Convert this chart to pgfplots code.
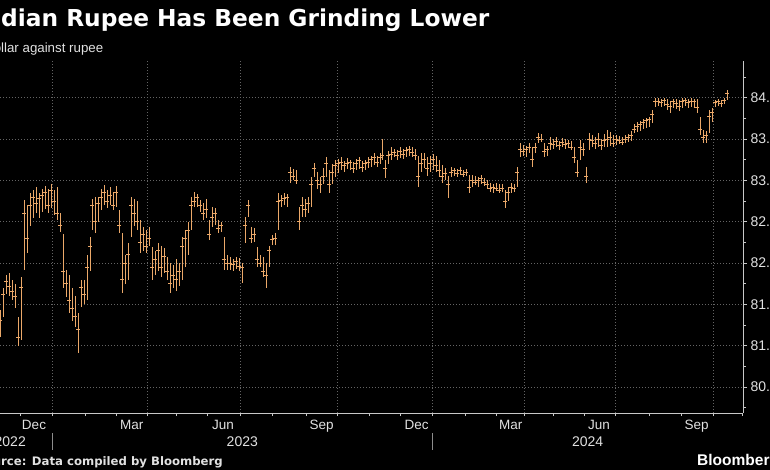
\documentclass[border=0pt]{standalone}
\usepackage{fontspec}
\setmainfont{Liberation Sans}
\newfontfamily\djb{DejaVu Sans}
\usepackage{pgfplots}
\usepackage{pgfplotstable}
\pgfplotsset{compat=1.18}
\definecolor{barc}{RGB}{235,168,105}
\definecolor{axc}{RGB}{200,200,200}
\definecolor{gridc}{RGB}{100,100,100}
\definecolor{labc}{RGB}{225,225,225}
\newlength\preA
\newlength\preB
\newlength\preC
\pgfplotstableread{
x lo hi c
0 81.10 81.43 81.30
3 81.35 81.70 81.62
6 81.62 81.85 81.78
9 81.60 81.88 81.72
12 81.55 81.80 81.66
15 81.45 81.75 81.60
18 81.00 81.35 81.10
21 81.07 81.83 81.70
24 81.92 82.76 82.60
27 82.12 82.70 82.30
30 82.45 82.85 82.70
33 82.55 82.88 82.80
36 82.60 82.92 82.72
39 82.55 82.85 82.78
42 82.62 82.90 82.82
45 82.65 82.93 82.85
48 82.60 82.90 82.70
51 82.66 82.95 82.88
54 82.58 82.88 82.75
57 82.52 82.92 82.60
60 82.38 82.60 82.45
63 81.70 82.35 81.90
66 81.59 81.92 81.75
69 81.40 81.85 81.55
72 81.30 81.70 81.45
75 81.23 81.60 81.35
78 80.91 81.40 81.20
81 81.47 81.79 81.70
84 81.50 81.80 81.62
87 81.55 82.10 81.95
90 81.90 82.31 82.20
92 82.40 82.78 82.70
95 82.36 82.80 82.50
98 82.50 82.80 82.72
101 82.64 82.90 82.80
104 82.70 82.94 82.85
107 82.66 82.88 82.75
110 82.70 82.92 82.82
113 82.64 82.86 82.70
116 82.68 82.93 82.85
119 82.36 82.64 82.45
122 81.64 82.36 81.80
125 81.75 82.10 82.00
128 81.79 82.24 82.10
131 82.31 82.80 82.70
134 82.45 82.78 82.60
137 82.40 82.75 82.50
140 82.12 82.52 82.25
143 82.15 82.44 82.35
146 82.12 82.40 82.20
149 82.20 82.44 82.30
152 81.79 82.19 81.95
155 81.85 82.15 82.05
158 81.90 82.24 82.15
161 81.83 82.20 81.95
164 81.88 82.18 82.08
167 81.80 82.07 81.90
170 81.64 82.00 81.75
173 81.70 81.98 81.85
176 81.66 82.05 81.80
179 81.72 82.00 81.90
182 81.79 82.31 82.20
185 81.95 82.40 82.30
188 82.10 82.50 82.40
191 82.40 82.80 82.70
194 82.68 82.86 82.75
197 82.68 82.84 82.80
200 82.62 82.76 82.70
203 82.52 82.72 82.60
206 82.55 82.78 82.65
209 82.28 82.52 82.35
212 82.44 82.68 82.55
215 82.46 82.66 82.60
218 82.36 82.52 82.42
221 82.38 82.50 82.45
224 81.92 82.31 82.05
227 81.92 82.10 82.00
230 81.92 82.07 82.00
233 81.90 82.05 81.98
236 81.93 82.07 82.02
239 81.90 82.06 81.96
242 81.76 82.00 81.95
245 82.24 82.56 82.45
248 82.56 82.76 82.70
251 82.24 82.44 82.30
254 82.26 82.42 82.35
257 81.95 82.19 82.05
260 81.95 82.10 82.00
263 81.83 82.07 81.90
266 81.70 82.00 81.85
269 81.95 82.20 82.15
272 82.22 82.34 82.28
275 82.22 82.36 82.30
278 82.40 82.85 82.75
281 82.68 82.82 82.76
284 82.70 82.85 82.78
287 82.68 82.84 82.80
290 82.97 83.16 83.10
293 83.00 83.14 83.05
296 82.95 83.12 83.00
299 82.40 82.68 82.50
302 82.56 82.80 82.70
305 82.56 82.78 82.65
308 82.60 82.80 82.72
311 82.68 83.04 82.95
314 83.04 83.21 83.15
317 82.90 83.10 83.00
320 82.85 83.04 82.95
323 82.95 83.15 83.05
326 83.04 83.28 83.20
329 82.85 83.12 82.95
332 82.95 83.20 83.10
335 83.04 83.25 83.18
338 83.09 83.26 83.20
341 83.12 83.28 83.22
344 83.10 83.24 83.18
347 83.14 83.27 83.20
350 83.12 83.25 83.22
353 83.09 83.22 83.15
356 83.12 83.26 83.20
359 83.14 83.28 83.24
362 83.10 83.24 83.16
365 83.12 83.25 83.20
368 83.15 83.28 83.22
371 83.16 83.30 83.25
374 83.18 83.33 83.28
377 83.16 83.30 83.22
380 83.20 83.33 83.28
382 83.25 83.50 83.30
385 83.03 83.25 83.15
388 83.20 83.36 83.30
391 83.25 83.40 83.32
394 83.28 83.38 83.34
397 83.25 83.37 83.30
400 83.27 83.40 83.35
403 83.26 83.38 83.32
406 83.28 83.40 83.36
409 83.30 83.42 83.38
412 83.28 83.40 83.34
415 83.25 83.38 83.30
418 82.92 83.30 83.05
421 83.10 83.33 83.20
424 83.15 83.33 83.25
427 83.05 83.28 83.15
430 83.10 83.30 83.20
433 83.12 83.32 83.25
436 83.10 83.30 83.18
439 83.04 83.25 83.12
442 82.97 83.19 83.05
445 83.00 83.15 83.08
448 82.79 83.05 82.95
451 83.04 83.16 83.10
454 83.05 83.15 83.12
457 83.04 83.14 83.08
460 83.06 83.16 83.12
463 83.04 83.13 83.07
466 83.05 83.14 83.10
469 82.85 83.06 82.92
472 82.92 83.06 83.00
475 82.94 83.05 82.98
478 82.92 83.04 83.00
481 82.95 83.06 83.02
484 82.93 83.03 82.97
487 82.90 83.00 82.95
490 82.86 82.97 82.90
493 82.85 82.96 82.92
496 82.87 82.97 82.90
499 82.85 82.95 82.88
502 82.86 82.96 82.90
505 82.67 82.88 82.75
508 82.75 82.92 82.85
511 82.85 82.97 82.92
514 82.86 82.95 82.90
517 82.92 83.16 83.10
520 83.28 83.45 83.38
523 83.30 83.43 83.35
526 83.28 83.42 83.38
529 83.33 83.45 83.40
532 83.16 83.40 83.25
535 83.33 83.45 83.40
538 83.45 83.57 83.52
541 83.46 83.56 83.50
544 83.28 83.45 83.35
547 83.30 83.42 83.38
550 83.37 83.52 83.45
553 83.38 83.50 83.44
556 83.40 83.52 83.47
559 83.37 83.48 83.42
562 83.40 83.51 83.46
565 83.38 83.50 83.44
568 83.39 83.49 83.45
571 83.37 83.48 83.40
574 83.21 83.40 83.28
577 83.04 83.25 83.10
580 83.25 83.49 83.40
583 83.30 83.45 83.38
586 82.97 83.16 83.05
589 83.37 83.57 83.50
592 83.40 83.55 83.48
595 83.38 83.52 83.45
598 83.40 83.57 83.50
601 83.37 83.50 83.42
604 83.40 83.56 83.48
607 83.40 83.61 83.50
610 83.42 83.58 83.52
613 83.40 83.55 83.45
616 83.43 83.55 83.50
619 83.44 83.54 83.48
622 83.43 83.52 83.46
625 83.45 83.55 83.50
628 83.46 83.56 83.52
631 83.48 83.60 83.55
634 83.57 83.68 83.62
637 83.58 83.70 83.65
640 83.60 83.72 83.68
643 83.62 83.74 83.70
646 83.63 83.76 83.72
649 83.65 83.77 83.74
652 83.69 83.85 83.80
655 83.89 84.00 83.95
658 83.90 84.00 83.96
661 83.89 83.99 83.94
664 83.90 84.00 83.97
667 83.85 83.98 83.92
670 83.82 83.96 83.90
673 83.88 83.99 83.95
676 83.86 83.98 83.93
679 83.84 83.97 83.90
682 83.88 84.00 83.96
685 83.90 84.00 83.97
688 83.87 83.99 83.94
691 83.89 84.00 83.96
694 83.88 83.99 83.95
697 83.82 83.98 83.88
700 83.55 83.77 83.62
703 83.45 83.61 83.52
706 83.45 83.60 83.55
709 83.57 83.85 83.78
712 83.70 83.88 83.82
715 83.89 83.97 83.94
718 83.90 83.98 83.95
721 83.89 83.97 83.93
724 83.92 84.00 83.97
727 83.97 84.09 84.05
}\bars
\begin{document}
\settowidth\preA{\djb\bfseries\fontsize{23.3bp}{28bp}\selectfont In}%
\settowidth\preB{\fontsize{13.3bp}{16bp}\selectfont Do}%
\settowidth\preC{\djb\bfseries\fontsize{11.7bp}{14bp}\selectfont Sou}%
\begin{tikzpicture}
\useasboundingbox (0bp,-57bp) rectangle (770bp,413bp);
\fill[black] (0bp,-57bp) rectangle (770bp,413bp);
\begin{scope}
\clip (0bp,-57bp) rectangle (770bp,413bp);
\begin{axis}[
  at={(-36bp,0bp)}, anchor=south west,
  scale only axis, width=779bp, height=352bp,
  xmin=-36, xmax=743, ymin=80.185, ymax=84.444,
  axis x line*=bottom, axis y line*=right,
  axis line style={axc, line width=0.8bp},
  tick style={axc, line width=0.7bp},
  tick align=outside,
  major tick length=4bp, minor tick length=3bp,
  xtick={34,131.7,223,321.7,416.7,510.7,599,696.7},
  xticklabels={Dec,Mar,Jun,Sep,Dec,Mar,Jun,Sep},
  major x tick style={draw=none},
  minor xtick={20,52.7,85,116,147.7,176,207,240.7,272.7,306,337.7,369,400.7,432.7,465,496,524.3,553,584,615,649,681.7,713.3,742.7},
  extra x ticks={52.7,147.7,240.7,337.7,432.7,524.3,615,713.3},
  extra x tick labels={},
  extra x tick style={grid=major},
  major grid style={gridc, dash pattern=on 1.2bp off 1.8bp, line width=0.6bp},
  ytick={80.5,81,81.5,82,82.5,83,83.5,84},
  minor ytick={80.25,80.75,81.25,81.75,82.25,82.75,83.25,83.75,84.25},
  ymajorgrids,
  /pgf/number format/assume math mode=true,
  yticklabel={\pgfmathprintnumber[fixed,fixed zerofill,precision=1]{\tick}},
  yticklabel style={font=\fontsize{14bp}{16bp}\selectfont, text=labc},
  xticklabel style={font=\fontsize{13.5bp}{16bp}\selectfont, text=labc},
]
\addplot[only marks, color=barc, mark=-, mark size=1.6bp,
  mark options={line width=0.7bp},
  error bars/.cd, y dir=both, y explicit, error mark=none,
  error bar style={color=barc, line width=0.85bp}]
  table[x=x, y=c, y error plus expr=\thisrow{hi}-\thisrow{c}, y error minus expr=\thisrow{c}-\thisrow{lo}] {\bars};
\end{axis}
\node[anchor=base west, inner sep=0pt, text=white, font=\djb\bfseries\fontsize{23.3bp}{28bp}\selectfont] at (1bp-\preA, 386.3bp) {Indian Rupee Has Been Grinding Lower};
\node[anchor=base west, inner sep=0pt, text=labc, font=\fontsize{13.3bp}{16bp}\selectfont] at (1bp-\preB, 360.3bp) {Dollar against rupee};
\node[anchor=base west, inner sep=0pt, text=labc, font=\djb\bfseries\fontsize{11.7bp}{14bp}\selectfont] at (1bp-\preC, -52bp) {Source: Data compiled by Bloomberg};
\node[anchor=base west, inner sep=0pt, text=white, font=\bfseries\fontsize{15.5bp}{18bp}\selectfont] at (697bp, -52bp) {Bloomberg};
\node[anchor=base east, inner sep=0pt, text=labc, font=\fontsize{14bp}{16bp}\selectfont] at (26bp, -33.7bp) {2022};
\node[anchor=base, inner sep=0pt, text=labc, font=\fontsize{14bp}{16bp}\selectfont] at (242.3bp, -33.7bp) {2023};
\node[anchor=base, inner sep=0pt, text=labc, font=\fontsize{14bp}{16bp}\selectfont] at (587.7bp, -33.7bp) {2024};
\draw[axc!70!black, line width=0.7bp] (52.7bp,-20bp) -- (52.7bp,-37bp);
\draw[axc!70!black, line width=0.7bp] (432.7bp,-20bp) -- (432.7bp,-37bp);
\end{scope}
\end{tikzpicture}
\end{document}
